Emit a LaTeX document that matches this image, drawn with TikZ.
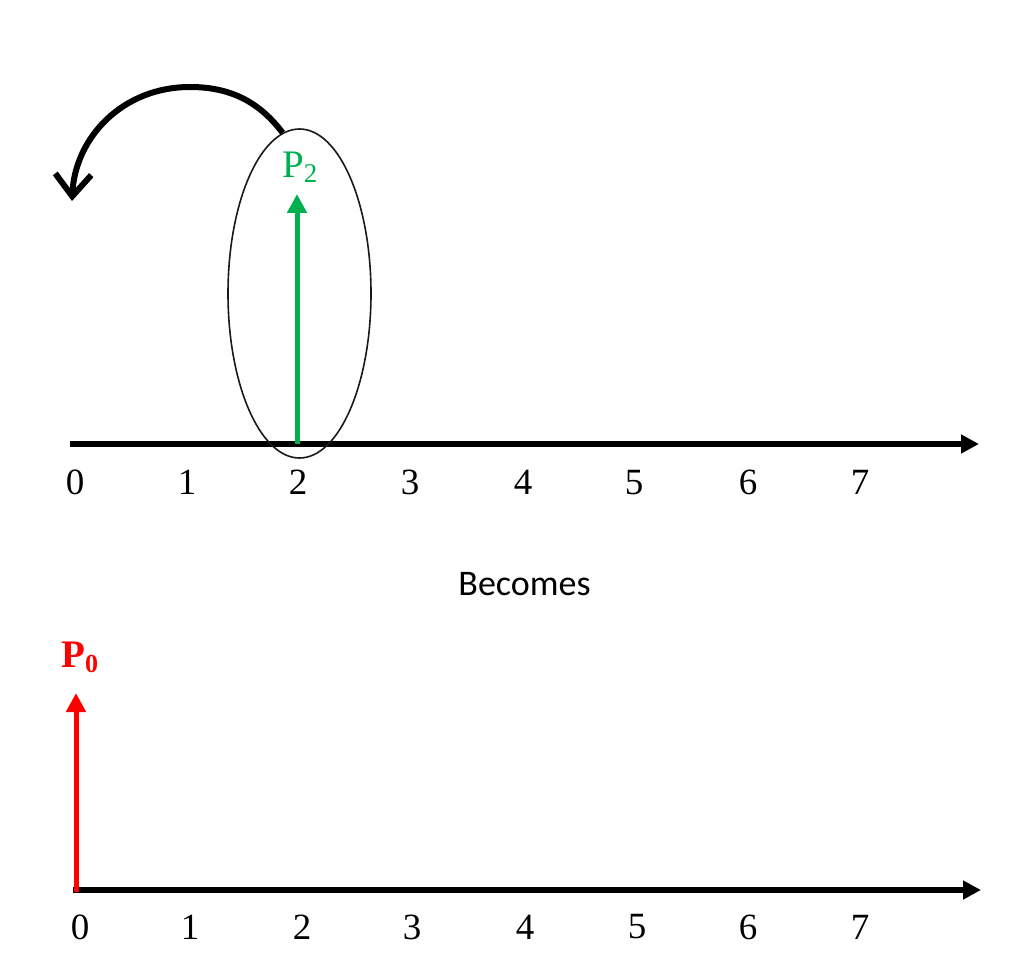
\documentclass[tikz,border=0pt]{standalone}
\usepackage{fontspec}
\setmainfont{Liberation Serif}
\newfontfamily\calibri{Carlito}
\usetikzlibrary{arrows.meta,shapes.geometric}
\definecolor{pgreen}{RGB}{0,176,80}
\definecolor{pred}{RGB}{255,0,0}
\begin{document}
\begin{tikzpicture}[x=1pt,y=-1pt,
  axisline/.style={line width=5.5pt,-{Triangle[length=18pt,width=18pt]}},
  ticklabel/.style={font=\fontsize{37}{39}\selectfont, inner sep=0pt},
  vecarrow/.style={line width=5pt,-{Triangle[length=19pt,width=19pt]}},
  jumparrow/.style={line width=6pt,-{Straight Barb[length=22pt,width=36pt]}},
  selring/.style={draw=black!90, ellipse, line width=1.6pt, inner sep=0pt,
    minimum width=143pt, minimum height=329pt}]
\useasboundingbox (0,0) rectangle (1024,976);

% ---------- top number line ----------
\coordinate (a1s) at (70,444);
\coordinate (a1e) at (979,444);
\draw[axisline] (a1s) -- (a1e);
\foreach \n/\x in {0/75,1/187,2/298,3/410,4/523,5/634,6/748,7/860}
  \node[ticklabel] (t1\n) at (\x,482.5) {\n};

% green vector P2
\coordinate (g0) at (297,444);
\coordinate (g1) at (297,194);
\draw[vecarrow, pgreen] (g0) -- (g1);
\node[anchor=base west, inner sep=0pt, text=pgreen] (p2) at (282,178)
  {\fontsize{39}{41}\selectfont P\raisebox{-5pt}{\fontsize{27}{29}\selectfont 2}};

% selection ellipse
\node[selring] (sel) at (299.5,293.5) {};

% jump arrow
\coordinate (peak) at (190,87);
\coordinate (jumpend) at (72,201);
\draw[jumparrow] (sel.96) .. controls (260,103) and (232,87) .. (peak)
  .. controls (122,87) and (75,138) .. (jumpend);

% ---------- Becomes ----------
\node[font=\calibri\fontsize{36}{38}\selectfont, anchor=base, inner sep=0pt] (becomes) at (524.5,595) {Becomes};

% ---------- bottom number line ----------
\coordinate (a2s) at (73,890);
\coordinate (a2e) at (981,890);
\draw[axisline] (a2s) -- (a2e);
\foreach \n/\x in {0/80,1/190,2/302,3/412,4/525,5/637,6/748,7/860}
  \node[ticklabel] (t2\n) at (\x,927) {\n};

% red vector P0
\coordinate (r0) at (76,892);
\coordinate (r1) at (76,693);
\draw[vecarrow, pred] (r0) -- (r1);
\node[anchor=base west, inner sep=0pt, text=pred] (p0) at (61,667)
  {\fontsize{39}{41}\selectfont\bfseries P\raisebox{-5pt}{\fontsize{26}{28}\selectfont 0}};
\end{tikzpicture}
\end{document}
